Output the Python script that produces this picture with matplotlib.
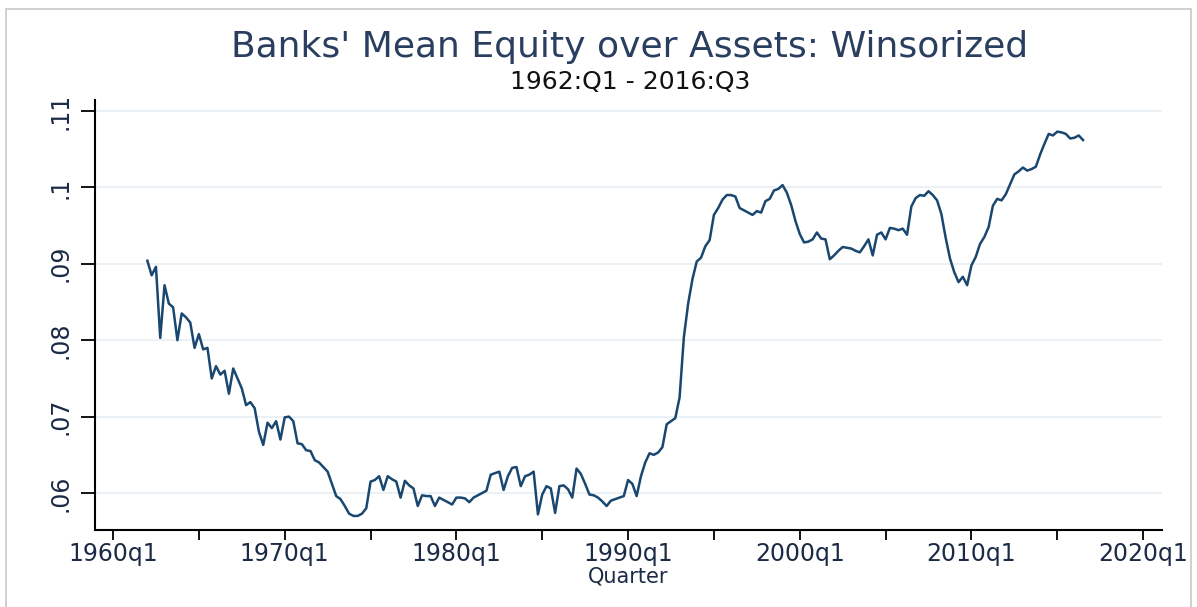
import numpy as np
import matplotlib.pyplot as plt
from matplotlib.patches import Rectangle

# quarterly series, 1962:Q1 - 2016:Q3
start_year = 1962
equity_assets = [
    .0904, .0885, .0896, .0803, .0872, .0848, .0843, .0800, .0835, .0830,
    .0823, .0790, .0808, .0788, .0790, .0750, .0766, .0755, .0760, .0730,
    .0763, .0750, .0737, .0715, .0719, .0711, .0680, .0663, .0692, .0685,
    .0694, .0670, .0699, .0700, .0694,
    .0665, .0664, .0656, .0655, .0643, .0640, .0634, .0628, .0612, .0596,
    .0592, .0583, .0573, .0570, .0570, .0573, .0580, .0615, .0617, .0622,
    .0604, .0622, .0618, .0615, .0594, .0616, .0610, .0606, .0583, .0597,
    .0596, .0596, .0583, .0594, .0591, .0588, .0585, .0594, .0594, .0593,
    .0588, .0594, .0597, .0600, .0603,
    .0624, .0626, .0628, .0604, .0622, .0633, .0634, .0609, .0622, .0624,
    .0628, .0572, .0598, .0609, .0606, .0574, .0609, .0610, .0605, .0594,
    .0632, .0625, .0612, .0598, .0597, .0594, .0589, .0583, .0590, .0592,
    .0594, .0596, .0617, .0612, .0596, .0622, .0640, .0652, .0650, .0653,
    .0660, .0690, .0694, .0698, .0725,
    .0804, .0848, .0880, .0903, .0908, .0923, .0931, .0964, .0973, .0984,
    .0990, .0990, .0988, .0973, .0970, .0967, .0964, .0969, .0967, .0982,
    .0985, .0996, .0998, .1003, .0993, .0977, .0956, .0939, .0928, .0929,
    .0932, .0941, .0933, .0932, .0906, .0911, .0917, .0922, .0921, .0920,
    .0917, .0915, .0923, .0932, .0911, .0938, .0941, .0932, .0947, .0946,
    .0944, .0946, .0938, .0975, .0986, .0990, .0989, .0995, .0990, .0983,
    .0965, .0934, .0907, .0889, .0876, .0883, .0872, .0898, .0909, .0926,
    .0935, .0948, .0976, .0985, .0983, .0991, .1004, .1017, .1021, .1026,
    .1022, .1024, .1027, .1043, .1057, .1070, .1068, .1073, .1072, .1070,
    .1064, .1065, .1068, .1062,
]

x_ticks = [1960, 1965, 1970, 1975, 1980, 1985, 1990, 1995, 2000, 2005, 2010, 2015, 2020]
x_labels = ["1960q1", "", "1970q1", "", "1980q1", "", "1990q1", "", "2000q1", "", "2010q1", "", "2020q1"]
y_ticks = [.06, .07, .08, .09, .10, .11]
y_labels = [".06", ".07", ".08", ".09", ".1", ".11"]

plt.rcParams['font.family'] = ['DejaVu Sans']
navy = "#1a476f"
text_col = "#1c2b45"

quarters = start_year + np.arange(len(equity_assets)) / 4.0

fig = plt.figure(figsize=(11.97, 6.07), dpi=100)
fig.patches.append(Rectangle((6 / 1197, -0.01), 1185 / 1197, 1 - 9 / 607 + 0.01,
                             transform=fig.transFigure, fill=False,
                             edgecolor="#c8c8c8", linewidth=1.2))

ax = fig.add_axes([95 / 1197, 1 - 530 / 607, (1162 - 95) / 1197, (530 - 100) / 607])
ax.plot(quarters, equity_assets, color=navy, linewidth=1.8)

ax.set_xlim(1958.95, 2021.1)
ax.set_ylim(0.05516, 0.11144)
ax.set_xticks(x_ticks)
ax.set_xticklabels(x_labels, fontsize=17, color=text_col)
ax.set_yticks(y_ticks)
ax.set_yticklabels(y_labels, fontsize=17, color=text_col, rotation=90, va='center')
ax.tick_params(axis='x', length=7, width=1.3, pad=2)
ax.tick_params(axis='y', length=10, width=1.3, pad=6)
ax.grid(axis='y', color="#e6eef1", linewidth=1.2)
ax.set_axisbelow(True)
for s in ['top', 'right']:
    ax.spines[s].set_visible(False)
for s in ['left', 'bottom']:
    ax.spines[s].set_linewidth(1.5)

ax.set_xlabel("Quarter", fontsize=15, color=text_col, labelpad=0)

fig.text(630 / 1197, 1 - 47 / 607, "Banks' Mean Equity over Assets: Winsorized",
         ha='center', va='center', fontsize=26, color="#2a3f5f")
fig.text(630 / 1197, 1 - 82 / 607, "1962:Q1 - 2016:Q3",
         ha='center', va='center', fontsize=18, color="#111111")

fig.savefig("out.png", dpi=100)
